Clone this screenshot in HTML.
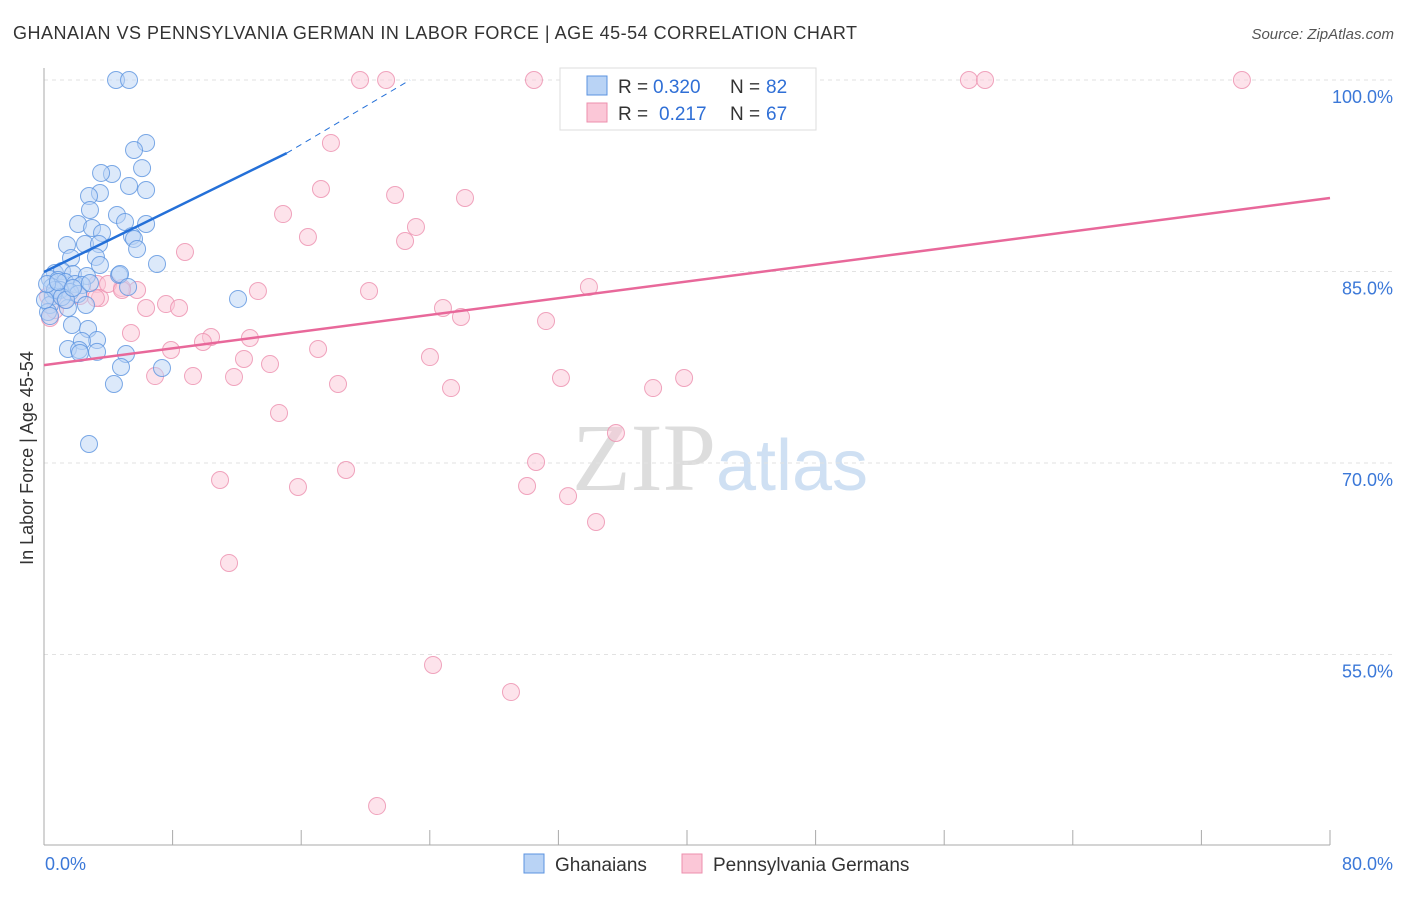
<!DOCTYPE html>
<html><head><meta charset="utf-8"><style>
body{margin:0;background:#fff;font-family:"Liberation Sans",sans-serif;}
</style></head><body>
<svg id="chart" width="1406" height="892" xmlns="http://www.w3.org/2000/svg" font-family="Liberation Sans, sans-serif">
<text x="13" y="39" font-size="18" fill="#333" textLength="844">GHANAIAN VS PENNSYLVANIA GERMAN IN LABOR FORCE | AGE 45-54 CORRELATION CHART</text>
<text x="1394" y="39" font-size="15" fill="#555" text-anchor="end" font-style="italic">Source: ZipAtlas.com</text>
<text x="720" y="490" font-size="96" text-anchor="middle"><tspan fill="#ddd" font-family="Liberation Serif, serif">ZIP</tspan><tspan fill="#cfe0f3" font-size="72">atlas</tspan></text>
<g id="grid"></g><g id="axes"></g><g id="pts"></g><g id="lines"></g>
<text transform="translate(33,458) rotate(-90)" font-size="18" fill="#333" text-anchor="middle">In Labor Force | Age 45-54</text>
<g>
<rect x="560" y="68" width="256" height="62" fill="#fff" stroke="#ddd"/>
<rect x="587" y="76" width="20" height="19" fill="#b9d3f5" stroke="#5b93e0"/>
<rect x="587" y="103" width="20" height="19" fill="#fbc7d7" stroke="#ec8fae"/>
<text x="618" y="93" font-size="19" fill="#333">R =</text>
<text x="653" y="93" font-size="19" fill="#2f6fd6">0.320</text>
<text x="730" y="93" font-size="19" fill="#333">N =</text>
<text x="766" y="93" font-size="19" fill="#2f6fd6">82</text>
<text x="618" y="120" font-size="19" fill="#333">R =</text>
<text x="659" y="120" font-size="19" fill="#2f6fd6">0.217</text>
<text x="730" y="120" font-size="19" fill="#333">N =</text>
<text x="766" y="120" font-size="19" fill="#2f6fd6">67</text>
</g>
<g>
<rect x="524" y="854" width="20" height="19" fill="#b9d3f5" stroke="#5b93e0"/>
<text x="555" y="871" font-size="19" fill="#333">Ghanaians</text>
<rect x="682" y="854" width="20" height="19" fill="#fbc7d7" stroke="#ec8fae"/>
<text x="713" y="871" font-size="19" fill="#333">Pennsylvania Germans</text>
</g>
</svg>
<script>
const yTicks=[100,85,70,55];
const xTickLabels=["0.0%","80.0%"];
const blueX=[4.48,5.29,6.35,5.6,6.1,4.23,3.55,5.29,6.35,3.48,2.8,2.86,4.54,5.04,2.12,6.35,2.99,3.61,5.47,5.6,2.55,1.43,3.42,5.79,3.23,1.68,7.03,3.48,0.68,1.12,1.8,2.67,4.67,4.73,0.37,0.87,1.31,1.93,2.36,5.23,0.5,1.0,1.62,2.12,0.56,12.07,2.61,0.37,1.49,0.25,1.74,2.74,3.3,2.36,1.49,2.18,2.24,3.3,5.1,4.79,7.34,4.35,2.8,0.68,1.12,0.06,0.19,2.86,1.37,0.37,0.87,1.8];
const blueY=[100,100,95.07,94.52,93.1,92.64,92.72,91.7,91.38,91.15,90.91,89.82,89.43,88.88,88.72,88.72,88.41,88.02,87.78,87.55,87.15,87.08,87.15,86.76,86.14,86.06,85.59,85.51,84.88,85.04,84.8,84.65,84.73,84.8,84.41,84.33,84.18,84.02,83.94,83.79,83.79,83.55,83.39,83.24,83.08,82.85,82.38,82.38,82.14,81.83,80.81,80.5,79.63,79.56,78.93,78.85,78.62,78.7,78.54,77.52,77.44,76.19,71.49,83.55,83.0,82.77,84.02,84.1,82.77,81.51,84.18,83.71];
const pinkX=[19.66,21.28,30.48,46.78,57.54,58.54,74.52,17.85,17.23,21.84,26.19,14.87,16.42,23.14,22.46,8.77,33.9,13.31,20.22,5.79,4.85,3.3,3.48,7.59,8.4,6.35,24.82,25.94,31.23,5.41,10.39,9.89,12.81,17.05,7.9,12.44,14.06,24.01,6.91,9.27,11.82,18.29,25.32,32.16,37.89,39.82,14.62,35.58,30.61,18.79,30.05,10.95,15.8,32.6,34.34,11.51,24.2,29.05,20.72,0.37,0.68,1.31,2.24,3.23,3.98,4.85,0.25];
const pinkY=[100,100,100,100,100,100,100,95.07,91.46,90.99,90.76,89.5,87.7,88.49,87.39,86.53,83.79,83.47,83.47,83.55,83.71,84.02,82.92,82.45,82.14,82.14,82.14,81.44,81.12,80.18,79.87,79.48,79.79,78.93,78.85,78.15,77.75,78.3,76.81,76.81,76.74,76.19,75.87,76.66,75.87,76.66,73.92,72.35,70.08,69.45,68.2,68.67,68.12,67.41,65.38,62.17,54.18,52.06,43.13,81.36,81.98,82.77,83.08,82.92,84.02,83.55,83.08];
const blueTrend=[84.96,0.617];
const pinkTrend=[77.67,0.1636];
const NS="http://www.w3.org/2000/svg";
const X=v=>44+v/80*1286, Y=v=>80+(100-v)/15*191.5;
function mk(t,a,p){const e=document.createElementNS(NS,t);for(const k in a)e.setAttribute(k,a[k]);document.getElementById(p).appendChild(e);return e;}
yTicks.forEach(t=>{
 const l=mk('line',{x1:44,x2:1394,y1:Y(t),y2:Y(t),stroke:'#e2e2e2','stroke-dasharray':'4,4'},'grid');
 
 
 const tx=mk('text',{x:1393,y:Y(t)+23,'font-size':18,fill:'#3b78d8','text-anchor':'end'},'grid');
 tx.textContent=t.toFixed(1)+'%';
 
 
});
mk('line',{x1:44,x2:44,y1:68,y2:845,stroke:'#aaa'},'axes');
mk('line',{x1:44,x2:1330,y1:845,y2:845,stroke:'#aaa'},'axes');
for(let i=0;i<=10;i++){const t=mk('line',{x1:X(i*8),x2:X(i*8),y1:830,y2:845,stroke:'#aaa'},'axes');
 
 }
[[0,'start',45],[80,'end',1393]].forEach((d,i)=>{const t=mk('text',{x:d[2],y:870,'font-size':18,fill:'#3b78d8','text-anchor':d[1]},'axes');t.textContent=xTickLabels[i];
 
 });
function dots(xs,ys,f,s,n){xs.forEach((x,i)=>{const c=mk('circle',{cx:X(x),cy:Y(ys[i]),r:8.5,fill:f,'fill-opacity':0.5,stroke:s,'stroke-opacity':0.8,'stroke-width':1},'pts');
 
 });}
dots(pinkX,pinkY,'#fbc7d7','#ec8fae','pa-german-point');
dots(blueX,blueY,'#b9d3f5','#5b93e0','ghanaian-point');
const bx=15.1;
let l=mk('line',{x1:X(0),y1:Y(blueTrend[0]),x2:X(bx),y2:Y(blueTrend[0]+blueTrend[1]*bx),stroke:'#2470d8','stroke-width':2.5},'lines');


l=mk('line',{x1:X(bx),y1:Y(blueTrend[0]+blueTrend[1]*bx),x2:X(22.77),y2:Y(100),stroke:'#2470d8','stroke-width':1,'stroke-dasharray':'6,5'},'lines');


l=mk('line',{x1:X(0),y1:Y(pinkTrend[0]),x2:X(80),y2:Y(pinkTrend[0]+pinkTrend[1]*80),stroke:'#e8689a','stroke-width':2.5},'lines');


</script>
</body></html>
